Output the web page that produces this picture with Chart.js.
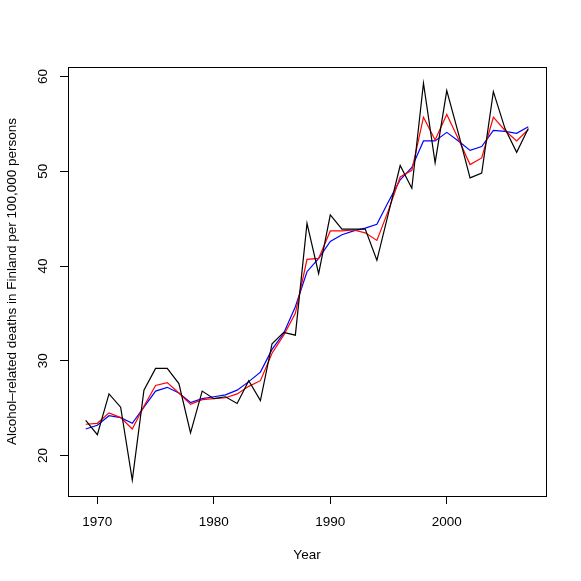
<!DOCTYPE html>
<html>
<head>
<meta charset="utf-8">
<script src="https://cdn.jsdelivr.net/npm/chart.js@4/dist/chart.umd.min.js"></script>
<style>
html,body{margin:0;padding:0;background:#fff;}
#wrap{width:581px;height:581px;}
</style>
</head>
<body>
<div id="wrap"><canvas id="c" width="581" height="581"></canvas></div>
<script>
const years = [1969,1970,1971,1972,1973,1974,1975,1976,1977,1978,1979,1980,1981,1982,1983,1984,1985,1986,1987,1988,1989,1990,1991,1992,1993,1994,1995,1996,1997,1998,1999,2000,2001,2002,2003,2004,2005,2006,2007];
const observed = [23.7,22.2,26.5,25.1,17.4,26.9,29.2,29.2,27.6,22.4,26.8,26.0,26.2,25.5,27.9,25.8,31.8,33.0,32.7,44.5,39.2,45.4,43.9,43.9,43.9,40.6,45.6,50.6,48.2,59.3,50.9,58.5,54.0,49.3,49.8,58.4,54.5,52.0,54.5];
const smoothRed = [23.3,23.4,24.5,24.0,22.8,25.2,27.4,27.7,26.6,25.4,25.9,26.0,26.1,26.5,27.3,27.9,30.8,32.7,35.0,40.7,40.8,43.7,43.7,43.8,43.5,42.7,45.9,49.4,50.1,55.7,53.3,56.0,53.4,50.7,51.4,55.7,54.3,53.2,54.4];
const smoothBlue = [22.8,23.2,24.2,24.0,23.4,25.1,26.8,27.2,26.6,25.6,26.0,26.2,26.4,26.9,27.8,28.8,31.2,32.9,35.7,39.4,40.8,42.6,43.3,43.7,44.0,44.4,46.8,49.1,50.4,53.2,53.2,54.1,53.2,52.2,52.6,54.3,54.2,54.0,54.7];
const xTicks = [1970,1980,1990,2000];
const yTicks = [20,30,40,50,60];
const xTitle = "Year";
const yTitle = "Alcohol\u2013related deaths in Finland per 100,000 persons";

const FONT = "Liberation Sans, Arial, Helvetica, sans-serif";
const toPts = (ys) => years.map((x,i)=>({x:x,y:ys[i]}));

const textPlugin = {
  id:'rtext',
  afterDraw(chart){
    const ctx = chart.ctx, a = chart.chartArea;
    const xs = chart.scales.x, ys = chart.scales.y;
    ctx.save();
    ctx.strokeStyle = '#000'; ctx.lineWidth = 1;
    ctx.strokeRect(Math.round(a.left)+0.5, Math.round(a.top)+0.5, Math.round(a.right-a.left), Math.round(a.bottom-a.top));
    ctx.fillStyle = '#000';
    ctx.font = '13.5px ' + FONT;
    ctx.textAlign = 'center'; ctx.textBaseline = 'middle';
    xTicks.forEach(v => ctx.fillText(String(v), xs.getPixelForValue(v), a.bottom + 26));
    yTicks.forEach(v => {
      ctx.save();
      ctx.translate(a.left - 25, ys.getPixelForValue(v));
      ctx.rotate(-Math.PI/2);
      ctx.fillText(String(v), 0, 0);
      ctx.restore();
    });
    ctx.fillText(xTitle, (a.left+a.right)/2, a.bottom + 59);
    ctx.save();
    ctx.translate(a.left - 56, (a.top+a.bottom)/2);
    ctx.rotate(-Math.PI/2);
    ctx.fillText(yTitle, 0, 0);
    ctx.restore();
    ctx.restore();
  }
};

new Chart(document.getElementById('c'), {
  type:'line',
  data:{
    datasets:[
      {data:toPts(observed), borderColor:'#000000', borderWidth:1.2, pointRadius:0, tension:0, fill:false},
      {data:toPts(smoothRed), borderColor:'#ff0000', borderWidth:1.2, pointRadius:0, tension:0, fill:false},
      {data:toPts(smoothBlue), borderColor:'#0000ff', borderWidth:1.2, pointRadius:0, tension:0, fill:false}
    ]
  },
  options:{
    responsive:false,
    animation:false,
    devicePixelRatio:1,
    layout:{padding:{left:60,top:67,right:35,bottom:77}},
    plugins:{legend:{display:false},tooltip:{enabled:false}},
    scales:{
      x:{
        type:'linear', min:1967.48, max:2008.52,
        afterBuildTicks: s => { s.ticks = xTicks.map(v=>({value:v})); },
        ticks:{display:false},
        grid:{drawOnChartArea:false, drawTicks:true, tickLength:8, color:'#000', lineWidth:1},
        border:{display:true, color:'#000', width:1}
      },
      y:{
        type:'linear', min:15.73, max:61.0,
        afterBuildTicks: s => { s.ticks = yTicks.map(v=>({value:v})); },
        ticks:{display:false},
        grid:{drawOnChartArea:false, drawTicks:true, tickLength:8, color:'#000', lineWidth:1},
        border:{display:true, color:'#000', width:1}
      }
    }
  },
  plugins:[textPlugin]
});
</script>
</body>
</html>
